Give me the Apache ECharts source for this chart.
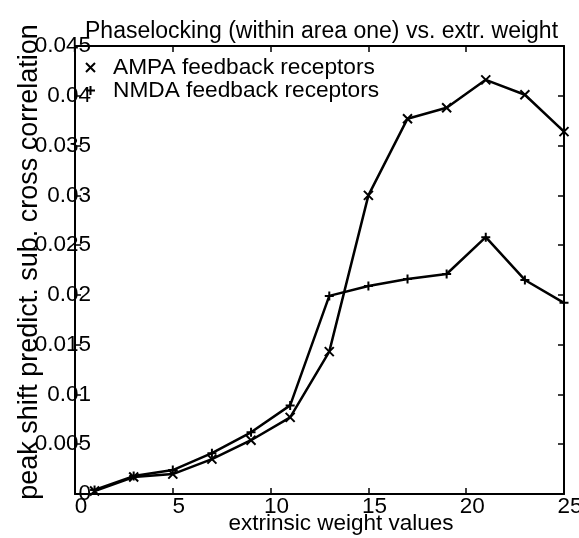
<!DOCTYPE html>
<html>
<head>
<meta charset="utf-8">
<script src="https://cdn.jsdelivr.net/npm/echarts@6/dist/echarts.min.js"></script>
<style>
html,body{margin:0;padding:0;background:#fff;}
#c{width:579px;height:538px;}
</style>
</head>
<body>
<div id="c"></div>
<script>
// Data
var xValues = [1, 3, 5, 7, 9, 11, 13, 15, 17, 19, 21, 23, 25];
var ampaValues = [0.0003, 0.0017, 0.0020, 0.0035, 0.0054, 0.0077, 0.0143, 0.0300, 0.0377, 0.0388, 0.0416, 0.0401, 0.0364];
var nmdaValues = [0.0004, 0.0018, 0.0024, 0.0041, 0.0062, 0.0089, 0.0199, 0.0209, 0.0216, 0.0221, 0.0258, 0.0215, 0.0192];
var seriesNames = ['AMPA feedback receptors', 'NMDA feedback receptors'];
var titleText = 'Phaselocking (within area one) vs. extr. weight';
var xName = 'extrinsic weight values';
var yName = 'peak shift predict. sub. cross correlation';

var FONT = "'Liberation Sans',Arial,Helvetica,sans-serif";
var crossPath = 'path://M0,0L10,10M10,0L0,10';
var plusPath = 'path://M5,0L5,10M0,5L10,5';

function pairs(xs, ys) { return xs.map(function (x, i) { return [x, ys[i]]; }); }

var chart = echarts.init(document.getElementById('c'), null, { renderer: 'canvas' });
function axisLine() { return { show: true, onZero: false, lineStyle: { color: '#000', width: 2 } }; }
function tick() { return { show: true, inside: true, length: 6, lineStyle: { color: '#000', width: 1.5 } }; }

chart.setOption({
  animation: false,
  backgroundColor: '#fff',
  title: {
    text: titleText, left: 80, top: 15,
    textStyle: { fontFamily: FONT, fontSize: 23, fontWeight: 'normal', color: '#000' }
  },
  legend: {
    orient: 'vertical', left: 85, top: 56, itemGap: 0, padding: 0,
    itemWidth: 9, itemHeight: 9,
    data: [
      { name: seriesNames[0], icon: crossPath },
      { name: seriesNames[1], icon: plusPath }
    ],
    textStyle: { fontFamily: FONT, fontSize: 22.7, color: '#000', lineHeight: 22, padding: [0, 0, 0, 13] }
  },
  grid: { left: 75, right: 15, top: 46, bottom: 44, containLabel: false, outerBoundsMode: 'none' },
  xAxis: [{
    type: 'value', min: 0, max: 25, interval: 5,
    name: xName, nameLocation: 'middle', nameGap: 18, nameMoveOverlap: false,
    nameTextStyle: { fontFamily: FONT, fontSize: 22.5, color: '#000', padding: [0, 0, 0, 43] },
    axisLine: axisLine(), axisTick: tick(), splitLine: { show: false },
    axisLabel: { fontFamily: FONT, fontSize: 22.5, color: '#000', margin: 1, padding: [0, 0, 0, 12] }
  }, {
    type: 'value', min: 0, max: 25, interval: 5, position: 'top',
    axisLine: axisLine(), axisTick: tick(), splitLine: { show: false }, axisLabel: { show: false }
  }],
  yAxis: [{
    type: 'value', min: 0, max: 0.045, interval: 0.005, position: 'left',
    name: yName, nameLocation: 'middle', nameGap: 32, nameMoveOverlap: false,
    nameTextStyle: { fontFamily: FONT, fontSize: 27, color: '#000', padding: [0, 0, 0, 16] },
    axisLine: axisLine(), axisTick: tick(), splitLine: { show: false },
    axisLabel: { fontFamily: FONT, fontSize: 22.5, color: '#000', margin: -16 }
  }, {
    type: 'value', min: 0, max: 0.045, interval: 0.005, position: 'right',
    axisLine: axisLine(), axisTick: tick(), splitLine: { show: false }, axisLabel: { show: false }
  }],
  series: [{
    name: seriesNames[0], type: 'line', data: pairs(xValues, ampaValues),
    symbol: crossPath, symbolSize: 9, showAllSymbol: true,
    lineStyle: { color: '#000', width: 2.5 },
    itemStyle: { color: 'rgba(0,0,0,0)', borderColor: '#000', borderWidth: 2 },
    emphasis: { disabled: true }
  }, {
    name: seriesNames[1], type: 'line', data: pairs(xValues, nmdaValues),
    symbol: plusPath, symbolSize: 9, showAllSymbol: true,
    lineStyle: { color: '#000', width: 2.5 },
    itemStyle: { color: 'rgba(0,0,0,0)', borderColor: '#000', borderWidth: 2 },
    emphasis: { disabled: true }
  }]
});
</script>
</body>
</html>
